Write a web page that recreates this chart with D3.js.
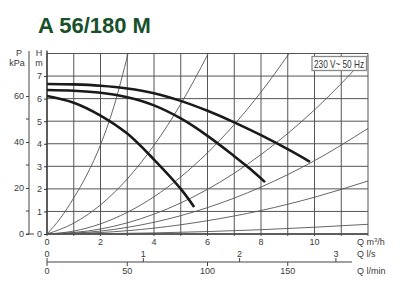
<!DOCTYPE html>
<html><head><meta charset="utf-8">
<script src="https://cdn.jsdelivr.net/npm/d3@7/dist/d3.min.js"></script>
<style>html,body{margin:0;padding:0;background:#fff}svg{display:block}text{font-family:"Liberation Sans",Arial,sans-serif}</style>
</head><body>
<script>
// ---- data ----
const title = "A 56/180 M";
const qTicks = [0,2,4,6,8,10];
const hTicks = [0,1,2,3,4,5,6,7];
const pTicks = [0,20,40,60];
const pMinor = [10,30,50];
const lsTicks = [0,1,2,3];
const lminTicks = [0,50,100,150];
// pump curves (Q m3/h, H m)
const pump1Q = [0,1,2,3,4,5,6,7,8,9,9.83];
const pump1H = [6.65,6.63,6.57,6.45,6.24,5.9,5.46,4.95,4.38,3.76,3.2];
const pump2Q = [0,1,2,3,4,5,6,7,7.6,8.15];
const pump2H = [6.38,6.35,6.26,6.06,5.7,5.12,4.35,3.45,2.88,2.3];
const pump3Q = [0,1,2,3,4,5,5.5];
const pump3H = [6.12,5.82,5.25,4.45,3.3,2.0,1.2];
// system curves
const sysQ = [
  [0,0.5,1,1.5,2,2.5,3.03],
  [0,1,2,3,4,5,6.03],
  [0,1,2,3,4,5,6,7,8,9.05],
  [0,2,4,6,8,10,12],
  [0,2,4,6,8,10,12],
  [0,2,4,6,8,10,12],
  [0,2,4,6,8,10,12]
];
const sysH = [
  [0,0.7,1.6,2.65,3.95,5.65,8],
  [0,0.48,1.29,2.44,3.93,5.76,8],
  [0,0.13,0.45,0.96,1.65,2.53,3.6,4.85,6.29,8],
  [0,0.22,0.88,1.98,3.52,5.5,7.92],
  [0,0.13,0.52,1.17,2.08,3.25,4.68],
  [0,0.065,0.26,0.59,1.04,1.63,2.35],
  [0,0.012,0.048,0.108,0.19,0.3,0.43]
];

// ---- chart ----
const W=400,H=293;
const svg=d3.select("body").append("svg").attr("width",W).attr("height",H);
const x=d3.scaleLinear().domain([0,12]).range([47,368]);
const y=d3.scaleLinear().domain([0,8]).range([234,53.5]);
const yP=d3.scaleLinear().domain([0,80]).range([y(0),y(80/9.81)]);
const xLs=d3.scaleLinear().domain([0,1]).range([x(0),x(3.6)]);
const xLmin=d3.scaleLinear().domain([0,1]).range([x(0),x(0.06)]);
const txt="#3a3a3a", grid="#555";

svg.append("text").attr("x",38).attr("y",33).attr("font-size",22).attr("font-weight","bold")
  .attr("fill","#17502a").text(title);

// grid
const g=svg.append("g");
g.selectAll(".v").data(d3.range(0,13)).join("line")
  .attr("x1",d=>x(d)).attr("x2",d=>x(d)).attr("y1",y(8)).attr("y2",y(0)+2)
  .attr("stroke",grid).attr("stroke-width",1);
g.selectAll(".h").data(d3.range(0,9)).join("line")
  .attr("x1",x(0)).attr("x2",x(12)).attr("y1",d=>y(d)).attr("y2",d=>y(d))
  .attr("stroke",grid).attr("stroke-width",1);
// axis lines
svg.append("line").attr("x1",x(0)).attr("x2",x(0)).attr("y1",y(8)-3).attr("y2",y(0)).attr("stroke","#333").attr("stroke-width",1.3);
svg.append("line").attr("x1",x(0)).attr("x2",x(12)).attr("y1",y(0)).attr("y2",y(0)).attr("stroke","#444").attr("stroke-width",1.6);

// H axis
const hAx=svg.append("g").attr("transform",`translate(${x(0)},0)`)
  .call(d3.axisLeft(y).tickValues(hTicks).tickSize(3).tickFormat(d3.format("d")));
hAx.select(".domain").remove();
hAx.selectAll("line").attr("stroke","#333");
hAx.selectAll("text").attr("font-size",9).attr("fill",txt).attr("font-family","Liberation Sans, Arial, sans-serif").attr("dx","0.1em");
svg.append("text").attr("x",39).attr("y",56).attr("font-size",9).attr("fill",txt).attr("text-anchor","middle").text("H");
svg.append("text").attr("x",39).attr("y",66).attr("font-size",9).attr("fill",txt).attr("text-anchor","middle").text("m");

// P axis
const pX=29;
svg.append("line").attr("x1",pX).attr("x2",pX).attr("y1",51).attr("y2",y(0)).attr("stroke","#444").attr("stroke-width",1);
svg.append("line").attr("x1",pX-3).attr("x2",pX+5).attr("y1",y(0)).attr("y2",y(0)).attr("stroke","#444").attr("stroke-width",1);
const pAx=svg.append("g").attr("transform",`translate(${pX},0)`)
  .call(d3.axisLeft(yP).tickValues(pTicks).tickSize(3).tickFormat(d3.format("d")));
pAx.select(".domain").remove();
pAx.selectAll("line").attr("stroke","#444");
pAx.selectAll("text").attr("font-size",9).attr("fill",txt).attr("font-family","Liberation Sans, Arial, sans-serif").attr("dx","0.1em");
svg.selectAll(".pm").data(pMinor).join("line").attr("x1",pX-3).attr("x2",pX).attr("y1",d=>yP(d)).attr("y2",d=>yP(d)).attr("stroke","#444");
svg.append("text").attr("x",19).attr("y",56).attr("font-size",9).attr("fill",txt).attr("text-anchor","middle").text("P");
svg.append("text").attr("x",17).attr("y",66).attr("font-size",9).attr("fill",txt).attr("text-anchor","middle").text("kPa");

// Q m3/h labels
svg.selectAll(".ql").data(qTicks).join("text").attr("x",d=>x(d)).attr("y",245).attr("font-size",9).attr("fill",txt)
  .attr("text-anchor","middle").text(d=>d);
const qlab=svg.append("text").attr("x",357).attr("y",245).attr("font-size",9).attr("fill",txt);
qlab.append("tspan").text("Q m");
qlab.append("tspan").attr("font-size",6).attr("dy",-3).text("3");
qlab.append("tspan").attr("dy",3).text("/h");

// l/s & l/min axis
const ly=262;
svg.append("line").attr("x1",x(0)).attr("x2",352).attr("y1",ly).attr("y2",ly).attr("stroke","#444").attr("stroke-width",1.2);
svg.selectAll(".lst").data(lsTicks).join("line").attr("x1",d=>xLs(d)).attr("x2",d=>xLs(d)).attr("y1",ly-4).attr("y2",ly).attr("stroke","#444");
svg.selectAll(".lsl").data(lsTicks).join("text").attr("x",d=>xLs(d)).attr("y",ly-5).attr("font-size",9).attr("fill",txt).attr("text-anchor","middle").text(d=>d);
svg.selectAll(".lmt").data(lminTicks).join("line").attr("x1",d=>xLmin(d)).attr("x2",d=>xLmin(d)).attr("y1",ly).attr("y2",ly+4).attr("stroke","#444");
svg.selectAll(".lml").data(lminTicks).join("text").attr("x",d=>xLmin(d)).attr("y",ly+12).attr("font-size",9).attr("fill",txt).attr("text-anchor","middle").text(d=>d);
svg.append("text").attr("x",357).attr("y",ly-5).attr("font-size",9).attr("fill",txt).text("Q l/s");
svg.append("text").attr("x",357).attr("y",ly+12).attr("font-size",9).attr("fill",txt).text("Q l/min");

// system curves
svg.append("clipPath").attr("id","pc").append("rect").attr("x",x(0)).attr("y",y(8)).attr("width",x(12)-x(0)).attr("height",y(0)-y(8));
const line=d3.line().x(d=>x(d[0])).y(d=>y(d[1])).curve(d3.curveMonotoneX);
const pline=d3.line().x(d=>x(d[0])).y(d=>y(d[1])).curve(d3.curveCatmullRom.alpha(0.5));
svg.append("g").attr("clip-path","url(#pc)").selectAll("path").data(sysQ.map((qs,i)=>qs.map((q,j)=>[q,sysH[i][j]])))
  .join("path").attr("d",line).attr("fill","none").attr("stroke","#555").attr("stroke-width",0.9);

// pump curves
[[pump1Q,pump1H],[pump2Q,pump2H],[pump3Q,pump3H]].forEach(([qs,hs])=>{
  svg.append("path").datum(qs.map((q,i)=>[q,hs[i]])).attr("d",pline).attr("fill","none")
    .attr("stroke","#1a1a1a").attr("stroke-width",2.6).attr("stroke-linecap","butt");
});

// label box
svg.append("rect").attr("x",312).attr("y",56.5).attr("width",54.5).attr("height",14).attr("fill","#fff").attr("stroke","#888").attr("stroke-width",1.3);
svg.append("text").attr("x",339).attr("y",67.5).attr("font-size",10.5).attr("fill","#333").attr("text-anchor","middle")
  .attr("textLength",50).attr("lengthAdjust","spacingAndGlyphs").text("230 V~ 50 Hz");
</script>
</body></html>
